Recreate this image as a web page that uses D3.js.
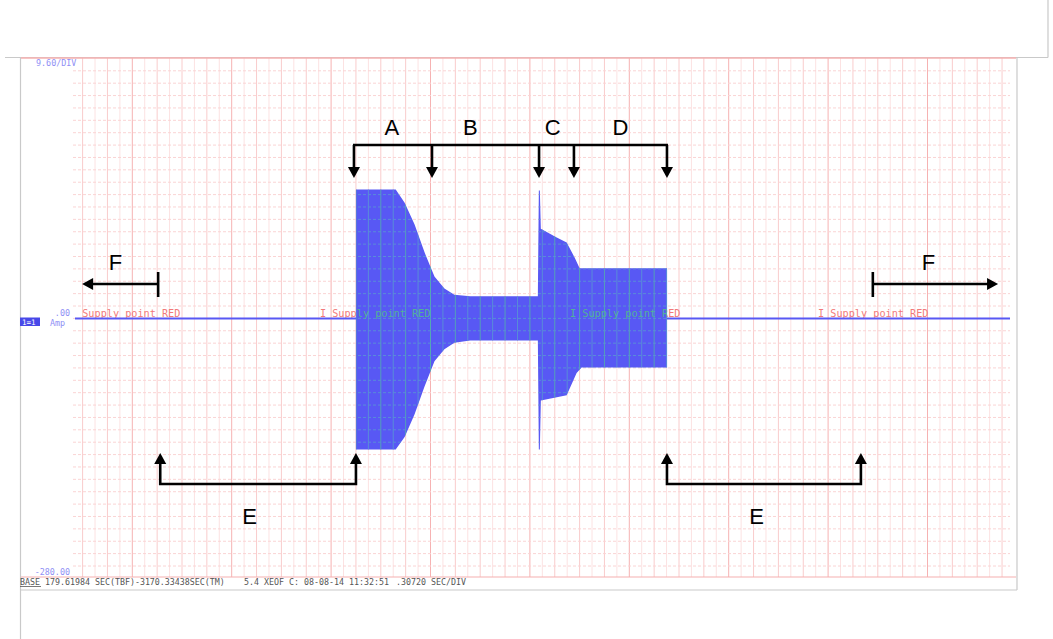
<!DOCTYPE html>
<html><head><meta charset="utf-8">
<script src="https://cdn.jsdelivr.net/npm/d3@7"></script>
<style>body{margin:0;background:#fff}svg{display:block}</style>
</head><body>
<svg id="chart" width="1053" height="639"></svg>
<script>
// Trace envelope (time in divisions, current in A)
const upperTime = [2.25, 2.65, 2.74, 2.84, 2.94, 3.04, 3.14, 3.24, 3.40, 4.08, 4.09, 4.10, 4.11, 4.27, 4.37, 4.45, 4.50, 5.38];
const upperAmp  = [25.0, 25.0, 22.4, 18.2, 12.8, 8.1, 5.8, 4.6, 4.3, 4.3, 24.8, 24.8, 17.4, 15.7, 14.7, 11.8, 9.7, 9.7];
const lowerTime = [2.25, 2.65, 2.74, 2.84, 2.94, 3.04, 3.14, 3.24, 3.40, 4.08, 4.09, 4.10, 4.11, 4.37, 4.47, 4.52, 5.38];
const lowerAmp  = [-25.4, -25.4, -23.0, -18.6, -13.2, -8.3, -6.0, -4.7, -4.3, -4.3, -25.4, -25.4, -15.9, -14.9, -10.6, -9.5, -9.5];

// Scope readout texts
const scaleLabels = ["9.60/DIV", ".00", "-280.00"];
const channelTag = "I Supply point RED";
const channelTagTimes = [-0.627, 1.888, 4.404, 6.899];

// Phase markers
const phaseTimes = [2.23, 3.015, 4.092, 4.443, 5.379];
const phaseNames = ["A", "B", "C", "D"];
const phaseLabelTimes = [2.61, 3.40, 4.23, 4.91];
const idleSpans = [[0.281, 2.25], [5.379, 7.33]];
const idleLabelTimes = [1.18, 6.28];
const offMarks = [[0.26, -0.505], [7.45, 8.71]];
const offLabelTimes = [-0.17, 8.01];

const svg = d3.select("#chart");

// plot area (grid)
const gx0 = 73, gx1 = 1010, gy0 = 58, gy1 = 577;
const x = d3.scaleLinear().domain([0, 1]).range([132.3, 231.7]);
const y = d3.scaleLinear().domain([0, 2.4]).range([318.4, 306.02]);

// frame
const frame = svg.append("g").attr("stroke", "#c9c9c9").attr("stroke-width", 1.2).attr("fill", "none");
frame.append("line").attr("x1", 5).attr("x2", 1048).attr("y1", 57.5).attr("y2", 57.5);
frame.append("line").attr("x1", 1048).attr("x2", 1048).attr("y1", 0).attr("y2", 57.5);
frame.append("line").attr("x1", 20.5).attr("x2", 20.5).attr("y1", 57.5).attr("y2", 639);
frame.append("line").attr("x1", 1017).attr("x2", 1017).attr("y1", 57.5).attr("y2", 590);
frame.append("line").attr("x1", 20.5).attr("x2", 1017).attr("y1", 590).attr("y2", 590);

// grid
const isMajor = d => Math.abs(d - Math.round(d)) < 1e-6;
const isHalf = d => Math.abs(d * 4 - Math.round(d * 4)) < 1e-6;
function drawGrid(g, colMajor, colMid, colMinor, colH) {
  const vTicks = d3.range(-8, 80).map(k => k / 8).filter(t => x(t) >= gx0 + 4 && x(t) <= gx1);
  g.selectAll("line.v").data(vTicks).join("line").attr("class", "v")
    .attr("x1", d => x(d)).attr("x2", d => x(d)).attr("y1", gy0).attr("y2", gy1)
    .attr("stroke", d => isMajor(d) ? colMajor : (isHalf(d) ? colMid : colMinor))
    .attr("stroke-width", 1);
  const hTicks = d3.range(-21, 22).map(k => k * 2.4).filter(v => y(v) > gy0 + 3 && y(v) < gy1 - 3);
  g.selectAll("line.h").data(hTicks).join("line").attr("class", "h")
    .attr("x1", gx0).attr("x2", gx1).attr("y1", d => y(d)).attr("y2", d => y(d))
    .attr("stroke", colH).attr("stroke-width", 1).attr("stroke-dasharray", "3,2");
}
drawGrid(svg.append("g"), "#f6b2b2", "#f9cccc", "#fce2e2", "#fad4d4");
svg.append("line").attr("x1", 21).attr("x2", 1016).attr("y1", gy0).attr("y2", gy0).attr("stroke", "#f6b0b0").attr("stroke-width", 1.5);
svg.append("line").attr("x1", 21).attr("x2", 1016).attr("y1", gy1).attr("y2", gy1).attr("stroke", "#f6b0b0").attr("stroke-width", 1.2);

// channel tags (under the trace)
const tagFont = "'DejaVu Sans Mono', monospace";
function drawTags(g, col) {
  g.selectAll("text").data(channelTagTimes).join("text")
    .attr("x", d => x(d)).attr("y", 316.5)
    .attr("font-family", tagFont).attr("font-size", 10.2).attr("fill", col)
    .text(channelTag);
}
const tagClip = svg.append("clipPath").attr("id", "tagclip");
tagClip.append("rect").attr("x", 81).attr("y", gy0).attr("width", gx1 - 81).attr("height", gy1 - gy0);
drawTags(svg.append("g").attr("clip-path", "url(#tagclip)"), "#f27a7a");

// trace
const blue = "#5858f4";
const upper = upperTime.map((t, i) => [t, upperAmp[i]]);
const lower = lowerTime.map((t, i) => [t, lowerAmp[i]]);
const envPath = () => {
  const top = d3.line().x(d => x(d[0])).y(d => y(d[1]))(upper);
  const bot = d3.line().x(d => x(d[0])).y(d => y(d[1]))(lower.slice().reverse());
  return top + "L" + bot.slice(1) + "Z";
};
svg.append("line").attr("x1", gx0 + 2).attr("x2", gx1).attr("y1", y(0)).attr("y2", y(0))
  .attr("stroke", blue).attr("stroke-width", 2);
svg.append("path").attr("d", envPath()).attr("fill", blue);

// grid and tags show through the dense trace
svg.append("clipPath").attr("id", "envclip").append("path").attr("d", envPath());
const over = svg.append("g").attr("clip-path", "url(#envclip)").attr("opacity", 0.75);
drawGrid(over, "#52c49c", "#52b8a4", "#5a9ed0", "#5a9ed0");
drawTags(over, "#50d078");

// scope readout
const roFont = "'DejaVu Sans Mono', monospace";
const ro = svg.append("g").attr("font-family", roFont).attr("font-size", 8.4).attr("fill", "#8f8ff5");
ro.append("text").attr("x", 36).attr("y", 66).text(scaleLabels[0]);
ro.append("text").attr("x", 70).attr("y", 316).attr("text-anchor", "end").text(scaleLabels[1]);
ro.append("text").attr("x", 50).attr("y", 326).text("Amp");
ro.append("text").attr("x", 70).attr("y", 575).attr("text-anchor", "end").text(scaleLabels[2]);
svg.append("rect").attr("x", 20).attr("y", 317.5).attr("width", 20).attr("height", 8.5).attr("fill", "#4848e8");
svg.append("text").attr("x", 22).attr("y", 324.5).attr("font-family", roFont).attr("font-size", 7.5)
  .attr("fill", "#fff").text("1=1");

const foot = svg.append("g").attr("font-family", roFont).attr("font-size", 8.3).attr("fill", "#555");
foot.append("text").attr("x", 20).attr("y", 585).text("BASE  179.61984 SEC(TBF)-3170.33438SEC(TM)");
foot.append("text").attr("x", 244).attr("y", 585).text("5.4 XEOF C:");
foot.append("text").attr("x", 304).attr("y", 585).text("08-08-14 11:32:51");
foot.append("text").attr("x", 396).attr("y", 585).text(".30720 SEC/DIV");
svg.append("line").attr("x1", 20).attr("x2", 41).attr("y1", 586.5).attr("y2", 586.5).attr("stroke", "#555").attr("stroke-width", 0.8);

// phase annotations
const ann = svg.append("g").attr("stroke", "#000").attr("stroke-width", 2.6).attr("fill", "none");
const annText = svg.append("g").attr("font-family", "'Liberation Sans', Arial, sans-serif").attr("font-size", 22).attr("fill", "#000").attr("text-anchor", "middle");
function arrowHead(px, py, dir) {
  // (px,py) is the tip
  const s = 6, l = 11;
  let pts;
  if (dir === "down") pts = [[px, py], [px - s, py - l], [px + s, py - l]];
  if (dir === "up") pts = [[px, py], [px - s, py + l], [px + s, py + l]];
  if (dir === "left") pts = [[px, py], [px + l, py - s], [px + l, py + s]];
  if (dir === "right") pts = [[px, py], [px - l, py - s], [px - l, py + s]];
  svg.append("path").attr("d", d3.line()(pts) + "Z").attr("fill", "#000");
}
const topY = 145, tipY = 178;
ann.append("line").attr("x1", x(phaseTimes[0]) - 1).attr("x2", x(phaseTimes[4]) + 1).attr("y1", topY).attr("y2", topY);
phaseTimes.forEach(t => {
  ann.append("line").attr("x1", x(t)).attr("x2", x(t)).attr("y1", topY).attr("y2", tipY - 8);
  arrowHead(x(t), tipY, "down");
});
phaseNames.forEach((n, i) => annText.append("text").attr("x", x(phaseLabelTimes[i])).attr("y", 135).text(n));

const baseY = 484, upTip = 453;
idleSpans.forEach((s, i) => {
  ann.append("path").attr("d", d3.line()([[x(s[0]), upTip + 8], [x(s[0]), baseY], [x(s[1]), baseY], [x(s[1]), upTip + 8]]));
  arrowHead(x(s[0]), upTip, "up");
  arrowHead(x(s[1]), upTip, "up");
  annText.append("text").attr("x", x(idleLabelTimes[i])).attr("y", 524).text("E");
});

const fY = 284;
offMarks.forEach((m, i) => {
  ann.append("line").attr("x1", x(m[0])).attr("x2", x(m[0])).attr("y1", fY - 12).attr("y2", fY + 13);
  const dir = m[1] < m[0] ? "left" : "right";
  const end = x(m[1]);
  ann.append("line").attr("x1", x(m[0])).attr("x2", dir === "left" ? end + 8 : end - 8).attr("y1", fY).attr("y2", fY);
  arrowHead(end, fY, dir);
  annText.append("text").attr("x", x(offLabelTimes[i])).attr("y", 270).text("F");
});
</script>
</body></html>
